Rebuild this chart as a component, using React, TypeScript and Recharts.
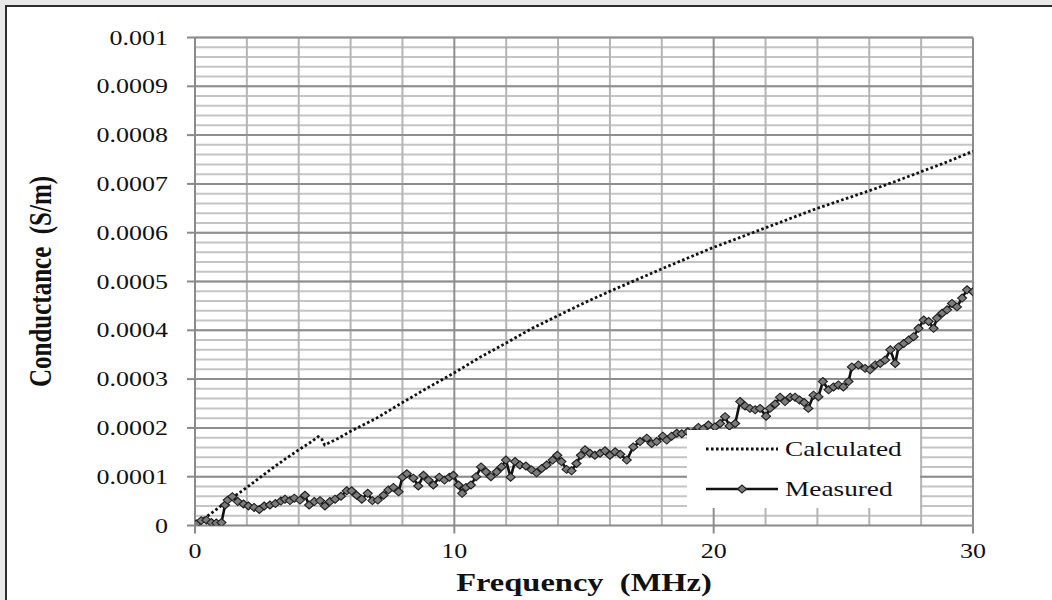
import React from 'react';
import { LineChart, Line, XAxis, YAxis, ReferenceLine, Legend, Label } from 'recharts';

// conductance in units of 1e-5 S/m, frequency in MHz
const measuredPoints: [number, number][] = [
  [0.05, 0.3], [0.24, 1.0], [0.44, 1.1], [0.63, 0.6], [0.82, 0.5], [1.02, 0.6], [1.16, 4.2], [1.26, 5.2],
  [1.44, 5.9], [1.65, 4.9], [1.87, 4.4], [2.06, 4.0], [2.28, 3.7], [2.48, 3.3], [2.67, 4.0], [2.89, 4.2],
  [3.1, 4.5], [3.31, 5.0], [3.47, 5.4], [3.66, 5.1], [3.83, 5.6], [4.05, 5.2], [4.24, 6.2], [4.4, 4.2],
  [4.6, 4.9], [4.82, 5.1], [5.01, 4.0], [5.2, 4.9], [5.4, 5.4], [5.63, 6.0], [5.85, 7.1], [6.04, 7.1],
  [6.23, 6.2], [6.43, 5.4], [6.66, 6.6], [6.84, 5.1], [7.05, 5.2], [7.27, 6.2], [7.46, 7.3], [7.65, 7.8],
  [7.85, 6.9], [8.0, 9.9], [8.17, 10.6], [8.42, 9.7], [8.61, 8.1], [8.81, 10.3], [9.0, 9.3], [9.19, 8.3],
  [9.42, 9.9], [9.62, 9.3], [9.81, 9.9], [9.96, 10.3], [10.16, 8.3], [10.3, 6.6], [10.45, 7.8], [10.64, 8.3],
  [10.84, 10.0], [11.03, 12.0], [11.22, 11.0], [11.41, 10.0], [11.63, 11.0], [11.82, 12.0], [11.99, 13.4],
  [12.17, 9.9], [12.34, 13.1], [12.53, 12.4], [12.76, 12.2], [12.98, 11.4], [13.17, 10.8], [13.37, 11.7],
  [13.56, 12.4], [13.79, 13.4], [13.97, 14.4], [14.13, 13.1], [14.33, 11.5], [14.52, 11.2], [14.71, 12.7],
  [14.88, 14.4], [15.04, 15.5], [15.23, 14.8], [15.42, 14.4], [15.62, 14.8], [15.81, 15.3], [16.0, 14.4],
  [16.2, 15.1], [16.4, 14.6], [16.65, 13.4], [16.9, 16.1], [17.16, 17.2], [17.42, 17.9], [17.61, 16.8],
  [17.8, 17.2], [18.04, 18.3], [18.19, 17.5], [18.38, 18.3], [18.58, 18.9], [18.77, 18.8], [19.0, 19.2],
  [19.2, 19.0], [19.41, 20.1], [19.6, 19.8], [19.8, 20.6], [20.05, 20.2], [20.25, 20.9], [20.44, 22.3],
  [20.61, 20.4], [20.83, 20.9], [21.02, 25.4], [21.21, 24.5], [21.4, 24.0], [21.6, 23.7], [21.79, 24.0],
  [22.02, 22.4], [22.17, 24.0], [22.37, 24.9], [22.56, 26.3], [22.75, 25.4], [22.95, 26.3], [23.14, 26.3],
  [23.31, 25.7], [23.49, 25.2], [23.65, 24.0], [23.85, 26.7], [24.04, 26.4], [24.21, 29.5], [24.43, 27.8],
  [24.62, 28.4], [24.81, 28.8], [25.0, 28.4], [25.2, 29.5], [25.33, 32.5], [25.58, 32.9], [25.84, 32.2],
  [26.03, 31.9], [26.23, 32.9], [26.42, 33.2], [26.61, 33.9], [26.81, 36.0], [27.0, 33.2], [27.13, 36.6],
  [27.33, 37.3], [27.52, 38.0], [27.71, 38.7], [27.9, 40.4], [28.1, 42.1], [28.29, 41.8], [28.48, 40.4],
  [28.61, 42.5], [28.81, 43.5], [29.0, 44.2], [29.19, 45.5], [29.38, 44.8], [29.58, 46.6], [29.77, 48.3],
  [30.0, 47.9],
];

const calculatedPoints: [number, number][] = [
  [0, 0.2], [0.5, 2.0], [1, 4.0], [1.5, 5.9], [2, 7.8], [2.5, 9.8], [3, 11.8], [3.5, 13.7], [4, 15.5],
  [4.5, 17.2], [4.75, 18.2], [4.9, 17.6], [5.0, 16.5], [5.5, 17.8], [6, 19.3], [7, 22.0], [8, 25.2],
  [9, 28.3], [10, 31.3], [11, 34.5], [12, 37.4], [13, 40.4], [14, 43.0], [15, 45.6], [16, 48.0],
  [17, 50.3], [18, 52.6], [19, 54.8], [20, 57.0], [21, 59.0], [22, 61.0], [23, 63.0], [24, 65.0],
  [25, 66.8], [26, 68.6], [27, 70.5], [28, 72.5], [29, 74.5], [30, 76.7],
];

const yTicks = [0, 0.0001, 0.0002, 0.0003, 0.0004, 0.0005, 0.0006, 0.0007, 0.0008, 0.0009, 0.001];
const xTicks = [0, 10, 20, 30];
const xGridMinor = [2, 4, 6, 8, 12, 14, 16, 18, 22, 24, 26, 28];
const xGridMajor = [10, 20, 30];
const yGridMinor = Array.from({ length: 50 }, (_, i) => (i + 1) * 0.00002);

const UNIT = 1e-5;
const measuredData = measuredPoints.map(([f, g]) => ({ f, g: g * UNIT }));
const calculatedData = calculatedPoints.map(([f, g]) => ({ f, g: g * UNIT }));

const FONT = "'Liberation Serif', 'Times New Roman', serif";
const STRETCH = 1.3;

const YTick = (props: any) => {
  const { x, y, payload } = props;
  return (
    <text transform={`translate(${x},${y}) scale(${STRETCH},1)`} textAnchor="end" dy="0.35em"
      fontFamily={FONT} fontSize={20} fill="#111">
      {String(payload.value)}
    </text>
  );
};

const XTick = (props: any) => {
  const { x, y, payload } = props;
  return (
    <text transform={`translate(${x},${y}) scale(${STRETCH},1)`} textAnchor="middle" dy="0.71em"
      fontFamily={FONT} fontSize={20} fill="#111">
      {String(payload.value)}
    </text>
  );
};

const Diamond = (props: any) => {
  const { cx, cy, index } = props;
  if (cx == null || cy == null) return <g key={`d-${index}`} />;
  return (
    <polygon key={`d-${index}`}
      points={`${cx - 4.5},${cy} ${cx},${cy - 4} ${cx + 4.5},${cy} ${cx},${cy + 4}`}
      fill="#7c7c7c" stroke="#1e1e1e" strokeWidth={1.1} />
  );
};

const LegendBox = () => {
  const label: React.CSSProperties = {
    position: 'absolute', left: 98, display: 'inline-block', transform: `scaleX(${STRETCH})`,
    transformOrigin: 'left center', fontFamily: FONT, fontSize: 21, color: '#111', lineHeight: '24px',
  };
  return (
    <div style={{ position: 'relative', width: 233, height: 78, background: '#fff' }}>
      <svg width={233} height={78} style={{ position: 'absolute', left: 0, top: 0 }}>
        <line x1={19} x2={91} y1={19} y2={19} stroke="#111" strokeWidth={2.8} strokeDasharray="2.6 2.4" />
        <line x1={19} x2={91} y1={59} y2={59} stroke="#111" strokeWidth={2.6} />
        <Diamond cx={55} cy={59} index={0} />
      </svg>
      <span style={{ ...label, top: 7 }}>Calculated</span>
      <span style={{ ...label, top: 47 }}>Measured</span>
    </div>
  );
};

export default function App() {
  return (
    <div style={{ position: 'absolute', left: 0, top: 0, width: 1052, height: 600, background: '#e8e8e8', overflow: 'hidden' }}>
      <div style={{ position: 'absolute', left: 5, top: 5, width: 1100, height: 650, background: '#fff',
        borderLeft: '2px solid #2e2e2e', borderTop: '2px solid #2e2e2e' }} />
      <div style={{ position: 'absolute', left: 0, top: 0 }}>
        <LineChart width={1052} height={600} margin={{ top: 37.5, right: 79, bottom: 24.5, left: 115 }}>
          <XAxis type="number" dataKey="f" domain={[0, 30]} ticks={xTicks} allowDataOverflow
            height={50} tickSize={8} tickMargin={10} tick={<XTick />}
            axisLine={{ stroke: '#8a8a8a', strokeWidth: 2 }} tickLine={{ stroke: '#8a8a8a', strokeWidth: 2 }}>
            <Label content={(p: any) => {
              const vb = p.viewBox;
              return (
                <text transform={`translate(${vb.x + vb.width / 2},${vb.y + 57}) scale(${STRETCH},1)`}
                  textAnchor="middle" dy="0.35em" fontFamily={FONT} fontSize={25} fontWeight="bold" fill="#111">
                  {'Frequency\u00a0\u00a0(MHz)'}
                </text>
              );
            }} />
          </XAxis>
          <YAxis type="number" domain={[0, 0.001]} ticks={yTicks} allowDataOverflow
            width={80} tickSize={8} tickMargin={19} tick={<YTick />}
            axisLine={{ stroke: '#8a8a8a', strokeWidth: 2 }} tickLine={{ stroke: '#8a8a8a', strokeWidth: 2 }}>
            <Label content={(p: any) => {
              const vb = p.viewBox;
              return (
                <text transform={`translate(${vb.x - 75},${vb.y + vb.height / 2}) scale(${STRETCH},1) rotate(-90)`}
                  textAnchor="middle" dy="0.35em" fontFamily={FONT} fontSize={25} fontWeight="bold" fill="#111">
                  {'Conductance\u00a0\u00a0(S/m)'}
                </text>
              );
            }} />
          </YAxis>

          {yGridMinor.map(v => (
            <ReferenceLine key={`hm-${v}`} y={v} stroke="#c4c4c4" strokeWidth={2} />
          ))}
          {xGridMinor.map(v => (
            <ReferenceLine key={`vm-${v}`} x={v} stroke="#b4b4b4" strokeWidth={2} />
          ))}
          {yTicks.slice(1).map(v => (
            <ReferenceLine key={`hM-${v}`} y={v} stroke="#8e8e8e" strokeWidth={2} />
          ))}
          {xGridMajor.map(v => (
            <ReferenceLine key={`vM-${v}`} x={v} stroke="#8e8e8e" strokeWidth={2} />
          ))}

          <Line data={calculatedData} dataKey="g" name="Calculated" type="linear" stroke="#111"
            strokeWidth={2.8} strokeDasharray="2.6 2.4" dot={false} isAnimationActive={false} />
          <Line data={measuredData} dataKey="g" name="Measured" type="linear" stroke="#111"
            strokeWidth={2.6} dot={(p: any) => <Diamond {...p} key={`m-${p.index}`} />} isAnimationActive={false} />

          <Legend layout="horizontal" align="center" verticalAlign="middle" content={() => <LegendBox />}
            wrapperStyle={{ position: 'absolute', left: 687, top: 430, width: 233, height: 78 }} />
        </LineChart>
      </div>
    </div>
  );
}
